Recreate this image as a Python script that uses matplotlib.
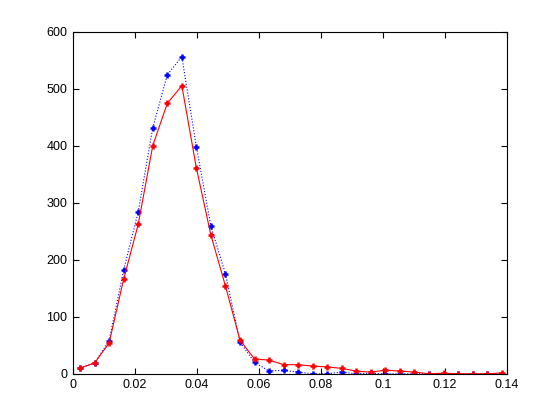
import numpy as np
import matplotlib
matplotlib.use("Agg")
import matplotlib.pyplot as plt

# -----------------------------
# data (30 histogram bins)
# -----------------------------
bin_width = 0.00469
x_centers = 0.00234 + bin_width * np.arange(30)

blue_counts = [10, 19, 58, 182, 284, 431, 524, 556, 398, 259,
               175, 56, 20, 5, 6, 3, 0, 0, 3, 0,
               1, 0, 0, 0, 0, 0, 0, 0, 0, 0]
red_counts = [10, 19, 54, 166, 262, 400, 474, 505, 361, 243,
              154, 59, 26, 24, 16, 16, 13.5, 12, 9.5, 4.7,
              3, 6.4, 4.7, 3, 0, 1, 0, 0, 0, 1.5]

x_ticks = [0, 0.02, 0.04, 0.06, 0.08, 0.1, 0.12, 0.14]
x_tick_labels = ["0", "0.02", "0.04", "0.06", "0.08", "0.1", "0.12", "0.14"]
y_ticks = [0, 100, 200, 300, 400, 500, 600]

# -----------------------------
# plot
# -----------------------------
plt.rcParams['font.family'] = ['Liberation Sans', 'DejaVu Sans']
fig = plt.figure(figsize=(5.6, 4.2), dpi=100)
ax = fig.add_axes([0.13, 0.11, 0.775, 0.815])

ax.plot(x_centers, blue_counts, ':', color=(0, 0, 1), linewidth=0.8,
        marker='+', markersize=5, markeredgewidth=1.8)
ax.plot(x_centers, red_counts, '-', color=(1, 0, 0), linewidth=0.8,
        marker='+', markersize=5, markeredgewidth=1.8)

ax.set_xlim(0, 0.14)
ax.set_ylim(0, 600)
ax.set_xticks(x_ticks)
ax.set_xticklabels(x_tick_labels)
ax.set_yticks(y_ticks)
ax.tick_params(direction='in', length=4, top=True, right=True,
               labelsize=9, pad=4)
for spine in ax.spines.values():
    spine.set_linewidth(0.8)

fig.savefig("out.png", dpi=100)
